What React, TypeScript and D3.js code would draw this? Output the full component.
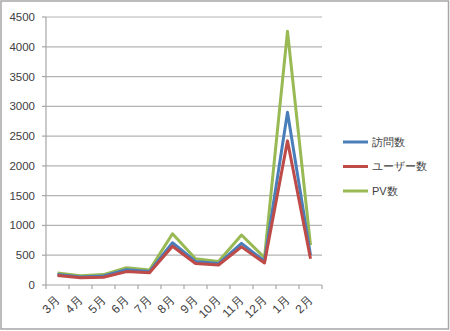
import React from "react";
import * as d3 from "d3";

const categories = ["3月", "4月", "5月", "6月", "7月", "8月", "9月", "10月", "11月", "12月", "1月", "2月"];
const visits = [175, 135, 150, 255, 225, 710, 395, 360, 700, 400, 2900, 500];
const users = [160, 120, 130, 225, 205, 650, 360, 335, 640, 370, 2420, 440];
const pv = [200, 155, 175, 290, 250, 860, 440, 395, 840, 460, 4260, 670];
const yTicks = [0, 500, 1000, 1500, 2000, 2500, 3000, 3500, 4000, 4500];
const seriesNames = ["訪問数", "ユーザー数", "PV数"];
const seriesColors = ["#4a7ebb", "#be4b48", "#98b954"];

export default function App() {
  const W = 450, H = 331;
  const left = 46, right = 322, top = 17, bottom = 285;
  const x = d3.scaleBand<string>().domain(categories).range([left, right]);
  const y = d3.scaleLinear().domain([0, 4500]).range([bottom, top]);
  const series = [visits, users, pv];
  const line = d3.line<number>().x((_, i) => (x(categories[i]) as number) + x.bandwidth() / 2).y((d) => y(d));
  const font = "'Liberation Sans', Arial, sans-serif";
  const drawOrder = [2, 0, 1];
  return (
    <svg width={W} height={H} style={{ position: "absolute", left: 0, top: 0 }} fontFamily={font}>
      <rect x={0} y={0} width={W} height={H} fill="#fff" />
      <rect x={1} y={1} width={W - 2.5} height={H - 3} fill="none" stroke="#a6a6a6" strokeWidth={1.5} />
      {yTicks.map((t) => (
        <g key={t}>
          {t > 0 && <line x1={left} x2={right} y1={y(t)} y2={y(t)} stroke="#b3b3b3" strokeWidth={1.2} />}
          <line x1={left - 4} x2={left} y1={y(t)} y2={y(t)} stroke="#a6a6a6" strokeWidth={1.2} />
          <text x={35} y={y(t)} dy="0.35em" textAnchor="end" fontSize={11.5} fill="#404040">{t}</text>
        </g>
      ))}
      <line x1={left} x2={left} y1={top} y2={bottom} stroke="#a6a6a6" strokeWidth={1.2} />
      <line x1={left} x2={right} y1={bottom} y2={bottom} stroke="#a6a6a6" strokeWidth={1.2} />
      {categories.map((c, i) => (
        <line key={"t" + i} x1={(x(c) as number) + x.bandwidth()} x2={(x(c) as number) + x.bandwidth()} y1={bottom} y2={bottom + 4} stroke="#a6a6a6" strokeWidth={1.2} />
      ))}
      <line x1={left} x2={left} y1={bottom} y2={bottom + 4} stroke="#a6a6a6" strokeWidth={1.2} />
      {categories.map((c) => {
        const cx = (x(c) as number) + x.bandwidth() / 2 - 3;
        const cy = bottom + 10;
        return (
          <text key={c} transform={`translate(${cx},${cy}) rotate(-45)`} textAnchor="end" dy="0.7em" fontSize={12} fill="#404040">{c}</text>
        );
      })}
      {drawOrder.map((si) => (
        <path key={si} d={line(series[si]) || ""} fill="none" stroke={seriesColors[si]} strokeWidth={3} strokeLinejoin="round" />
      ))}
      {seriesNames.map((n, i) => {
        const ly = 142 + i * 24.5;
        return (
          <g key={n}>
            <line x1={343} x2={368} y1={ly} y2={ly} stroke={seriesColors[i]} strokeWidth={3} />
            <text x={372} y={ly} dy="0.35em" fontSize={11} fill="#404040">{n}</text>
          </g>
        );
      })}
    </svg>
  );
}
